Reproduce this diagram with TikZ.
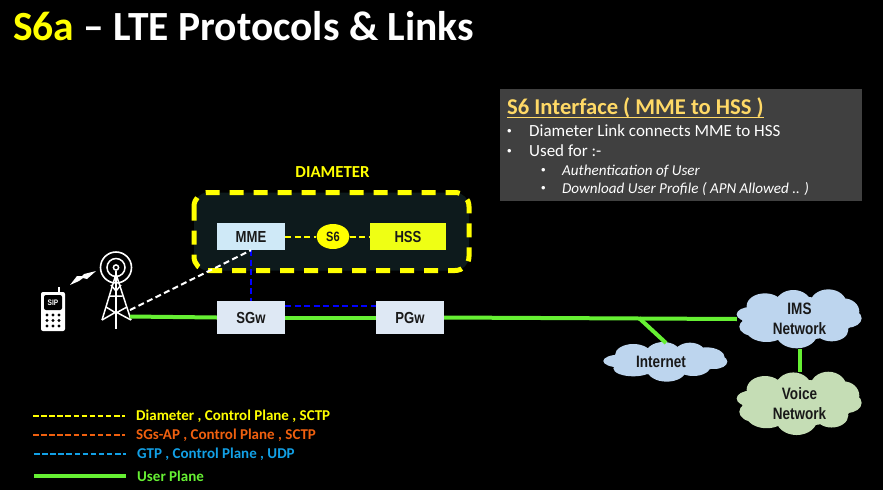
\documentclass[tikz,border=0pt]{standalone}
\usepackage{fontspec}
\setmainfont{Carlito}
\newfontfamily\arialf[FakeStretch=0.82]{Liberation Sans}
\newfontfamily\bulletf{Liberation Sans}
\usetikzlibrary{shapes.geometric}
\definecolor{ltblue}{HTML}{CFE9F7}
\definecolor{paleblue}{HTML}{DEE8F4}
\definecolor{cloudblue}{HTML}{BDD5EE}
\definecolor{cloudgreen}{HTML}{C5DDB5}
\definecolor{ugreen}{HTML}{66F033}
\definecolor{dyellow}{HTML}{FFFF00}
\definecolor{hssyellow}{HTML}{EFFF14}
\definecolor{lorange}{HTML}{F0600F}
\definecolor{lblue}{HTML}{12A0E6}
\definecolor{panelgray}{HTML}{404040}
\definecolor{headgold}{HTML}{FFD966}
\definecolor{boxfill}{HTML}{0D1A1C}
\newcommand{\lump}[4]{(#1,#2) ellipse [x radius=#3,y radius=#4]}
\newcommand{\bigcloudlumps}{%
  \lump{625}{115}{170}{65} \lump{482}{103}{42}{22} \lump{525}{78}{55}{38} \lump{610}{75}{55}{45}
  \lump{715}{72}{55}{44} \lump{760}{95}{48}{40} \lump{772}{115}{43}{28} \lump{725}{150}{50}{34}
  \lump{620}{160}{62}{45} \lump{530}{148}{62}{38} \lump{492}{140}{44}{28}}
\newcommand{\smallcloudlumps}{%
  \lump{225}{245}{160}{40} \lump{130}{225}{55}{33} \lump{220}{226}{55}{40} \lump{300}{226}{50}{38}
  \lump{350}{235}{55}{33} \lump{372}{245}{40}{22} \lump{88}{243}{48}{19} \lump{130}{265}{60}{24}
  \lump{230}{270}{58}{35} \lump{310}{258}{52}{30}}
\tikzset{
  elem/.style={draw=none,inner sep=0pt,text=black!90,font=\arialf\bfseries\fontsize{16}{16}\selectfont},
  cloudtext/.style={draw=none,inner sep=0pt,text=black!90,align=center,
    font=\arialf\bfseries\fontsize{16.5}{20}\selectfont},
  userplane/.style={draw=ugreen,line width=4pt},
  dslink/.style={dash pattern=on 6pt off 3.5pt,line width=2pt},
  legendline/.style={dash pattern=on 5.5pt off 2.6pt,line width=1.8pt},
  legendtext/.style={anchor=west,inner sep=0pt,font=\bfseries\fontsize{15}{15}\selectfont},
  panelline/.style={anchor=base west,inner sep=0pt,text=white},
  bulletmark/.style={anchor=base west,inner sep=0pt,text=white,font=\bulletf\fontsize{13}{13}\selectfont},
  icon/.style={draw=white,line width=1.5pt},
}
\begin{document}
\begin{tikzpicture}[x=1pt,y=-1pt]
\useasboundingbox (0,0) rectangle (883,490);
\fill[black] (0,0) rectangle (883,490);
% title
\node[anchor=base west,inner sep=0pt,text=white,font=\bfseries\fontsize{41.5}{42}\selectfont] (title) at (13,40) {\textcolor{dyellow}{S6a} -- LTE Protocols \& Links};
% panel
\node[anchor=north west,fill=panelgray,minimum width=362pt,minimum height=112pt,inner sep=0pt] (panel) at (500,89) {};
\node[panelline,text=headgold,font=\bfseries\fontsize{22.6}{23}\selectfont] (head) at (507,114) {S6 Interface ( MME to HSS )};
\draw[headgold,line width=1.2pt] (507,117.5) -- (764,117.5);
\node[bulletmark] (b1a) at (507,135) {•};
\node[panelline,font=\fontsize{17}{17}\selectfont] (b1) at (529,136) {Diameter Link connects MME to HSS};
\node[bulletmark] (b2a) at (507,155) {•};
\node[panelline,font=\fontsize{17}{17}\selectfont] (b2) at (529,156) {Used for :-};
\node[bulletmark] (b3a) at (541,174) {•};
\node[panelline,font=\itshape\fontsize{15.1}{15}\selectfont] (b3) at (562,175) {Authentication of User};
\node[bulletmark] (b4a) at (541,192) {•};
\node[panelline,font=\itshape\fontsize{15.1}{15}\selectfont] (b4) at (562,193) {Download User Profile ( APN Allowed .. )};
% diameter box
\node[text=dyellow,inner sep=0pt,font=\bfseries\fontsize{16.8}{17}\selectfont] (diam) at (332.5,172) {DIAMETER};
\draw[draw=dyellow,fill=boxfill,line width=5pt,rounded corners=14pt,dash pattern=on 14pt off 10pt] (194,192.5) rectangle (469,270.5);
% elements
\node[elem,fill=ltblue,minimum width=68pt,minimum height=27pt] (mme) at (251,236.5) {MME};
\node[elem,fill=hssyellow,minimum width=76pt,minimum height=27pt] (hss) at (408,236.5) {HSS};
\node[elem,ellipse,fill=dyellow,minimum width=33pt,minimum height=25pt,font=\arialf\bfseries\fontsize{13.5}{13}\selectfont] (s6) at (333,236.5) {S6};
\node[elem,fill=paleblue,minimum width=68pt,minimum height=33pt] (sgw) at (251,317.5) {SGw};
\node[elem,fill=paleblue,minimum width=68pt,minimum height=33pt] (pgw) at (410,317.5) {PGw};
% clouds
\begin{scope}[shift={(590,280)},x=0.3333pt,y=-0.3333pt]
\fill[cloudblue] \bigcloudlumps;
\fill[cloudblue] \smallcloudlumps;
\end{scope}
\begin{scope}[shift={(590,361.7)},x=0.3333pt,y=-0.3577pt]
\fill[cloudgreen] \bigcloudlumps;
\end{scope}
\node[cloudtext,minimum width=125pt,minimum height=59pt] (ims) at (799.5,319) {IMS\\Network};
\node[cloudtext,minimum width=124pt,minimum height=41pt] (inet) at (661,361.5) {Internet};
\node[cloudtext,minimum width=125pt,minimum height=63pt] (voice) at (799.5,403.5) {Voice\\Network};
% tower
\coordinate (bts) at (130,316.5);
\begin{scope}[icon]
\draw (116,267.5) circle (2.6pt);
\draw (116,267.5) circle (9pt);
\draw[line width=1.6pt] (116,267.5) circle (15.5pt);
\draw (116,271) -- (116,329);
\draw (116,274) -- (102,320) (116,274) -- (131,320);
\draw (109.5,296) -- (122.5,296) (106,307) -- (116,313) -- (127,307) (102,320) -- (116,312) -- (131,320) (111,285) -- (116,291) -- (121,285);
\end{scope}
% phone
\fill[white,rounded corners=2pt] (41,292) rectangle (65,331);
\fill[white] (58,287) rectangle (60,293);
\fill[black,rounded corners=2pt] (44,295) rectangle (62,310);
\node[inner sep=0pt,text=white,font=\arialf\bfseries\fontsize{8}{8}\selectfont] (sip) at (53,303) {SIP};
\fill[black] \foreach \xx in {47,53,59}{\foreach \yy in {315,320.5,326}{(\xx,\yy) circle (1.7pt)}};
% lightning
\fill[white] (70,285) -- (77,276) -- (82,276) -- (84,274) -- (96,271) -- (87,279) -- (83,278) -- (79,281) -- cycle;
% links
\draw[userplane] (bts) -- (sgw.west);
\draw[userplane] (sgw.east) -- (pgw.west);
\draw[userplane] (pgw.east) -- (ims.west);
\coordinate (tee) at (639,318);
\coordinate (inetlink) at (666,343);
\draw[userplane] (tee) -- (inetlink);
\draw[userplane] (ims.south) -- (voice.north);
\draw[dyellow,dslink] (mme.east) -- (s6.west);
\draw[dyellow,dslink] (s6.east) -- (hss.west);
\draw[blue,dslink] (mme.south) -- (sgw.north);
\coordinate (sp1) at (285,306); \coordinate (sp2) at (376,306);
\draw[blue,dslink] (sp1) -- (sp2);
\coordinate (btsc) at (130,310);
\draw[white,dslink] (btsc) -- (mme.south);
% legend
\coordinate (l1a) at (33,416); \coordinate (l1b) at (125,416);
\coordinate (l2a) at (33,435); \coordinate (l2b) at (125,435);
\coordinate (l3a) at (34,454); \coordinate (l3b) at (126,454);
\coordinate (l4a) at (34,476); \coordinate (l4b) at (126,476);
\draw[dyellow,legendline] (l1a) -- (l1b);
\draw[lorange,legendline] (l2a) -- (l2b);
\draw[lblue,legendline] (l3a) -- (l3b);
\draw[ugreen,line width=4pt] (l4a) -- (l4b);
\node[legendtext,text=dyellow] (t1) at (136,416) {Diameter , Control Plane , SCTP};
\node[legendtext,text=lorange] (t2) at (136,435) {SGs-AP , Control Plane , SCTP};
\node[legendtext,text=lblue] (t3) at (137,454) {GTP , Control Plane , UDP};
\node[legendtext,text=ugreen] (t4) at (137,476) {User Plane};
\end{tikzpicture}
\end{document}
